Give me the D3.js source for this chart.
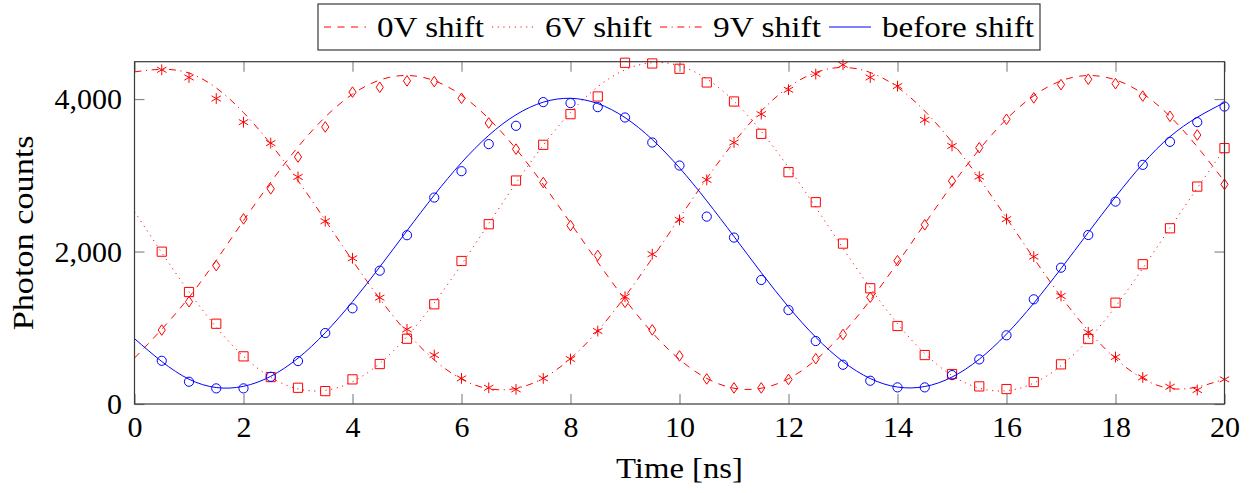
<!DOCTYPE html>
<html>
<head>
<meta charset="utf-8">
<script src="https://cdn.jsdelivr.net/npm/d3@7/dist/d3.min.js"></script>
<style>
  html, body { margin: 0; padding: 0; background: #ffffff; }
  svg { display: block; }
  svg text { font-family: "Liberation Serif", "Times New Roman", Times, serif !important; fill: #000; }
</style>
</head>
<body>
<svg id="chart" width="1258" height="493"></svg>
<script>
// ---- measured points (time in ns, photon counts) ----
const timeData = [0.5, 1, 1.5, 2, 2.5, 3, 3.5, 4, 4.5, 5,
                  5.5, 6, 6.5, 7, 7.5, 8, 8.5, 9, 9.5, 10,
                  10.5, 11, 11.5, 12, 12.5, 13, 13.5, 14, 14.5, 15,
                  15.5, 16, 16.5, 17, 17.5, 18, 18.5, 19, 19.5, 20];

const counts0V = [970, 1342, 1815, 2428, 2822, 3240, 3634, 4091, 4155, 4238,
                  4229, 4010, 3686, 3343, 2905, 2340, 1948, 1334, 972, 631,
                  329, 211, 211, 322, 594, 911, 1400, 1880, 2351, 2925,
                  3362, 3735, 4015, 4189, 4260, 4202, 4039, 3774, 3529, 2881];

const counts6V = [1998, 1469, 1053, 625, 353, 213, 169, 323, 524, 856,
                  1308, 1876, 2358, 2931, 3400, 3802, 4034, 4476, 4467, 4397,
                  4218, 3968, 3544, 3041, 2647, 2104, 1518, 1023, 642, 393,
                  231, 196, 288, 520, 852, 1329, 1833, 2305, 2852, 3356];

const counts9V = [4384, 4283, 4007, 3697, 3422, 2979, 2398, 1911, 1395, 979,
                  642, 336, 213, 192, 336, 590, 957, 1408, 1965, 2415,
                  2940, 3430, 3802, 4122, 4328, 4450, 4283, 4170, 3727, 3385,
                  2983, 2425, 1933, 1417, 940, 616, 349, 226, 183, 323];

const countsBefore = [567, 292, 205, 205, 357, 563, 931, 1255, 1749, 2214,
                      2708, 3054, 3409, 3649, 3960, 3947, 3894, 3758, 3430, 3128,
                      2458, 2183, 1627, 1233, 826, 515, 305, 218, 218, 379,
                      585, 901, 1373, 1788, 2217, 2655, 3137, 3439, 3697, 3902];

// ---- fitted curves, sampled every ns ----
const timeFit = [0, 1, 2, 3, 4, 5, 6, 7, 8, 9, 10,
                 11, 12, 13, 14, 15, 16, 17, 18, 19, 20];

const fit0V = [603, 1399, 2405, 3372, 4064, 4310, 4049, 3346, 2374, 1371, 584,
               207, 332, 929, 1850, 2871, 3737, 4239, 4252, 3773, 2920];

const fit6V = [2526, 1471, 626, 198, 292, 885, 1831, 2898, 3825, 4383, 4437,
               3972, 3102, 2043, 1053, 374, 174, 502, 1278, 2310, 3345];

const fit9V = [4356, 4341, 3823, 2930, 1882, 937, 327, 204, 596, 1408, 2440,
               3435, 4155, 4415, 4155, 3435, 2440, 1408, 596, 204, 327];

const fitBefore = [858, 325, 232, 601, 1342, 2273, 3166, 3794, 4010, 3757, 3098,
                   2197, 1273, 556, 222, 353, 917, 1776, 2717, 3507, 3954];

// ---- axes ----
const xTicks = [0, 2, 4, 6, 8, 10, 12, 14, 16, 18, 20];
const yTicks = [0, 2000, 4000];
const xDomain = [0, 20];
const yDomain = [0, 4490];

const seriesNames = ["0V shift", "6V shift", "9V shift", "before shift"];
const xLabel = "Time [ns]";
const yLabel = "Photon counts";

// ---- layout and styles ----
const W = 1258, H = 493;
const plot = { left: 134.5, right: 1224.5, top: 61.7, bottom: 404 };
const RED = "#ff0000", BLUE = "#0000ff";
const FONT = 30;
const FAMILY = "'Liberation Serif', 'Times New Roman', Times, serif";

const series = [
  { name: seriesNames[0], pts: counts0V, fit: fit0V, color: RED, dash: "7,6.5", mark: "diamond" },
  { name: seriesNames[1], pts: counts6V, fit: fit6V, color: RED, dash: "1.1,4.6", mark: "square" },
  { name: seriesNames[2], pts: counts9V, fit: fit9V, color: RED, dash: "7,4.6,1.1,4.6", mark: "asterisk" },
  { name: seriesNames[3], pts: countsBefore, fit: fitBefore, color: BLUE, dash: null, mark: "circle" }
];

const svg = d3.select("#chart");
svg.append("rect").attr("width", W).attr("height", H).attr("fill", "#fff");

const x = d3.scaleLinear().domain(xDomain).range([plot.left, plot.right]);
const y = d3.scaleLinear().domain(yDomain).range([plot.bottom, plot.top]);

svg.append("defs").append("clipPath").attr("id", "plotClip")
  .append("rect")
  .attr("x", plot.left).attr("y", plot.top)
  .attr("width", plot.right - plot.left).attr("height", plot.bottom - plot.top);

// inward ticks on all four sides
const TICK = 10;
const tickColor = "#8a8a8a";
const fmt = d3.format(",");

const gx = svg.append("g").attr("transform", `translate(0,${plot.bottom})`)
  .call(d3.axisBottom(x).tickValues(xTicks).tickSize(-TICK).tickPadding(12).tickFormat(d3.format("d")));
const gxTop = svg.append("g").attr("transform", `translate(0,${plot.top})`)
  .call(d3.axisTop(x).tickValues(xTicks).tickSize(-TICK).tickFormat(""));
const gy = svg.append("g").attr("transform", `translate(${plot.left},0)`)
  .call(d3.axisLeft(y).tickValues(yTicks).tickSize(-TICK).tickPadding(12.5).tickFormat(fmt));
const gyRight = svg.append("g").attr("transform", `translate(${plot.right},0)`)
  .call(d3.axisRight(y).tickValues(yTicks).tickSize(-TICK).tickFormat(""));

[gx, gxTop, gy, gyRight].forEach(g => {
  g.attr("font-family", FAMILY).attr("font-size", FONT);
  g.select(".domain").remove();
  g.selectAll(".tick line").attr("stroke", tickColor).attr("stroke-width", 1.2);
  g.selectAll("text").attr("fill", "#000");
});

// series: fitted curve then measured points
const lineGen = d3.line().x(d => x(d[0])).y(d => y(d[1])).curve(d3.curveNatural);
const linesG = svg.append("g").attr("clip-path", "url(#plotClip)");
const marksG = svg.append("g");

const R = 4.6;
const markPaths = {
  square: `M${-R},${-R}H${R}V${R}H${-R}Z`,
  diamond: "M0,-5.3L3.6,0L0,5.3L-3.6,0Z",
  asterisk: (() => {
    const r = 5.4, c = r * Math.cos(Math.PI / 6), s = r * Math.sin(Math.PI / 6);
    return `M0,${-r}L0,${r}M${-c},${-s}L${c},${s}M${-c},${s}L${c},${-s}`;
  })()
};

series.forEach(s => {
  const fitData = timeFit.map((t, i) => [t, s.fit[i]]);
  linesG.append("path")
    .datum(fitData)
    .attr("d", lineGen)
    .attr("fill", "none")
    .attr("stroke", s.color)
    .attr("stroke-width", 1)
    .attr("stroke-dasharray", s.dash);

  const ptData = timeData.map((t, i) => [t, s.pts[i]]);
  if (s.mark === "circle") {
    marksG.append("g").selectAll("circle").data(ptData).join("circle")
      .attr("cx", d => x(d[0])).attr("cy", d => y(d[1])).attr("r", R)
      .attr("fill", "none").attr("stroke", s.color).attr("stroke-width", 1);
  } else {
    marksG.append("g").selectAll("path").data(ptData).join("path")
      .attr("transform", d => `translate(${x(d[0])},${y(d[1])})`)
      .attr("d", markPaths[s.mark])
      .attr("fill", "none").attr("stroke", s.color).attr("stroke-width", 1);
  }
});

// frame
svg.append("rect")
  .attr("x", plot.left).attr("y", plot.top)
  .attr("width", plot.right - plot.left).attr("height", plot.bottom - plot.top)
  .attr("fill", "none").attr("stroke", "#3a3a3a").attr("stroke-width", 1.2);

// axis titles
svg.append("text")
  .attr("x", (plot.left + plot.right) / 2).attr("y", 478)
  .attr("text-anchor", "middle")
  .attr("font-family", FAMILY).attr("font-size", FONT)
  .attr("textLength", 127).attr("lengthAdjust", "spacingAndGlyphs")
  .text(xLabel);

svg.append("text")
  .attr("transform", `translate(33,${(plot.top + plot.bottom) / 2}) rotate(-90)`)
  .attr("text-anchor", "middle")
  .attr("font-family", FAMILY).attr("font-size", FONT)
  .attr("textLength", 195).attr("lengthAdjust", "spacingAndGlyphs")
  .text(yLabel);

// legend
const legend = { left: 318, top: 4, height: 46, pad: 6, sample: 42, sampleGap: 11, entryGap: 8 };
const legendTextWidths = [107, 107, 108, 152];
const lg = svg.append("g");
let cx = legend.left + legend.pad;
const midY = legend.top + legend.height / 2;
series.forEach((s, i) => {
  lg.append("line")
    .attr("x1", cx).attr("x2", cx + legend.sample)
    .attr("y1", midY).attr("y2", midY)
    .attr("stroke", s.color).attr("stroke-width", 1)
    .attr("stroke-dasharray", s.dash);
  cx += legend.sample + legend.sampleGap;
  lg.append("text")
    .attr("x", cx).attr("y", midY + 9.5)
    .attr("font-family", FAMILY).attr("font-size", FONT)
    .attr("textLength", legendTextWidths[i]).attr("lengthAdjust", "spacingAndGlyphs")
    .text(s.name);
  cx += legendTextWidths[i] + (i < series.length - 1 ? legend.entryGap : 0);
});
lg.insert("rect", ":first-child")
  .attr("x", legend.left).attr("y", legend.top)
  .attr("width", cx + legend.pad - legend.left).attr("height", legend.height)
  .attr("fill", "#fff").attr("stroke", "#3a3a3a").attr("stroke-width", 1.2);
</script>
</body>
</html>
